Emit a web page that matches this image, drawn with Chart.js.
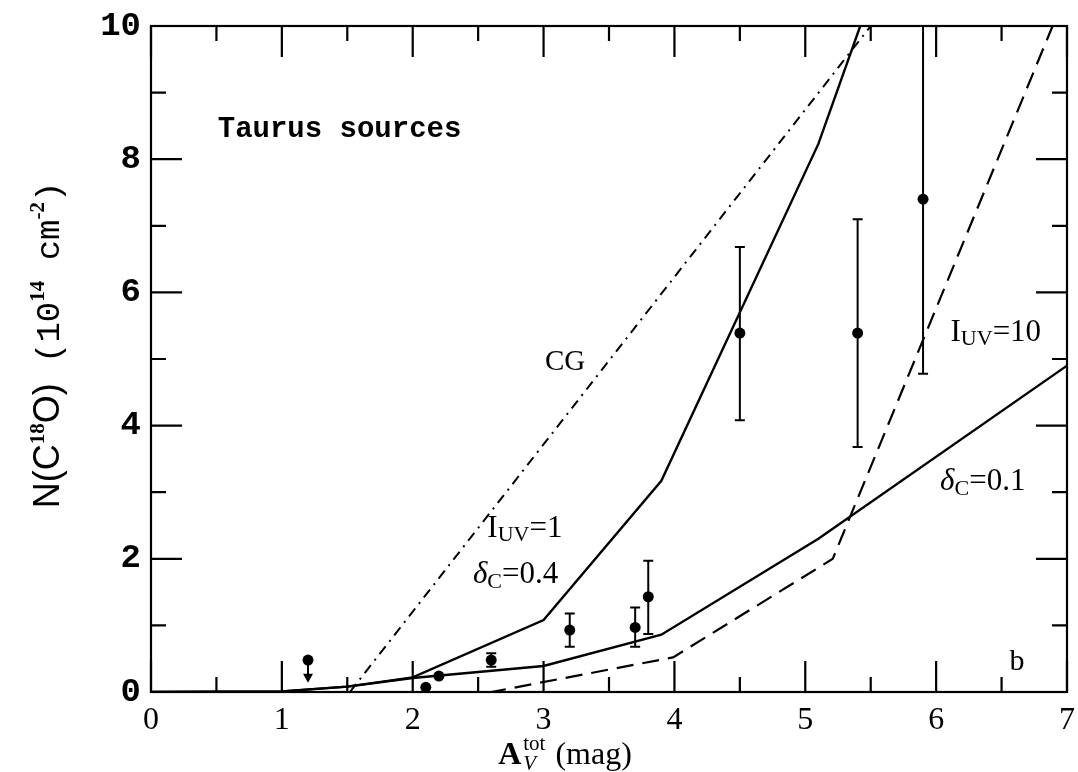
<!DOCTYPE html>
<html lang="en">
<head>
<meta charset="UTF-8" />
<title>N(C18O) vs A_V - Taurus sources</title>
<script src="https://cdn.jsdelivr.net/npm/chart.js"></script>
<style>
  body { margin: 0; background: #ffffff; }
  #wrap { width: 1078px; height: 772px; }
</style>
</head>
<body>
<div id="wrap"><canvas id="chart" width="1078" height="772"></canvas></div>
<script>
// axis ticks
const xTicks = [0, 1, 2, 3, 4, 5, 6, 7];
const yTicks = [0, 2, 4, 6, 8, 10];

// observed sources (with error bars)
const obsX    = [2.1, 2.2, 2.6, 3.2, 3.7, 3.8, 4.5, 5.4, 5.9];
const obsY    = [0.07, 0.24, 0.48, 0.93, 0.97, 1.43, 5.39, 5.39, 7.40];
const obsLow  = [null, null, 0.38, 0.68, 0.68, 0.87, 4.08, 3.68, 4.78];
const obsHigh = [null, null, 0.58, 1.18, 1.27, 1.97, 6.68, 7.10, 10.6];

// upper limit
const limX  = [1.2];
const limY  = [0.48];
const limTo = [0.14];

// model curves
const cgX   = [1.52, 5.5];
const cgY   = [0, 10];
const uv1X  = [0, 1, 1.5, 2, 3, 3.9, 5.1, 5.42];
const uv1Y  = [0, 0.01, 0.08, 0.22, 1.08, 3.17, 8.23, 10];
const dc01X = [0, 1, 1.5, 2, 3, 3.9, 5.1, 7];
const dc01Y = [0, 0.01, 0.08, 0.21, 0.39, 0.86, 2.3, 4.9];
const uv10X = [0, 2.6, 3.99, 5.21, 6.89];
const uv10Y = [0, 0, 0.52, 2.0, 10];

const pts = (xs, ys) => xs.map((x, i) => ({ x: x, y: ys[i] }));

const SERIF = '"Liberation Serif", serif';
const SANS = '"Liberation Sans", sans-serif';
const MONO = '"Liberation Mono", monospace';

function richWidth(ctx, segs) {
  let w = 0;
  segs.forEach(s => { ctx.font = s.f; w += ctx.measureText(s.t).width; });
  return w;
}
function drawRich(ctx, x, y, segs) {
  let cx = x;
  segs.forEach(s => {
    ctx.font = s.f;
    ctx.fillText(s.t, cx, y + (s.dy || 0));
    cx += ctx.measureText(s.t).width;
  });
}

// text labels placed in data units
const notes = [
  { x: 0.51, y: 8.34, segs: [{ t: 'Taurus sources', f: 'bold 29px ' + MONO }] },
  { x: 3.01, y: 4.84, segs: [{ t: 'CG', f: '29px ' + SERIF }] },
  { x: 2.57, y: 2.33, segs: [{ t: 'I', f: '31px ' + SERIF }, { t: 'UV', f: '22px ' + SERIF, dy: 4 }, { t: '=1', f: '31px ' + SERIF }] },
  { x: 2.46, y: 1.64, segs: [{ t: 'δ', f: 'italic 31px ' + SERIF }, { t: 'C', f: '22px ' + SERIF, dy: 5 }, { t: '=0.4', f: '31px ' + SERIF }] },
  { x: 6.11, y: 5.27, segs: [{ t: 'I', f: '31px ' + SERIF }, { t: 'UV', f: '22px ' + SERIF, dy: 4 }, { t: '=10', f: '31px ' + SERIF }] },
  { x: 6.03, y: 3.03, segs: [{ t: 'δ', f: 'italic 31px ' + SERIF }, { t: 'C', f: '22px ' + SERIF, dy: 5 }, { t: '=0.1', f: '31px ' + SERIF }] },
  { x: 6.56, y: 0.33, segs: [{ t: 'b', f: '30px ' + SERIF }] }
];

const framePlugin = {
  id: 'frame',
  afterDatasetsDraw(chart) {
    const ctx = chart.ctx, a = chart.chartArea;
    const xs = chart.scales.x, ys = chart.scales.y;
    ctx.save();
    ctx.strokeStyle = '#000';
    ctx.fillStyle = '#000';

    // error bars and upper limit, clipped to plot
    ctx.save();
    ctx.beginPath();
    ctx.rect(a.left, a.top, a.right - a.left, a.bottom - a.top);
    ctx.clip();
    ctx.lineWidth = 2;
    obsX.forEach((v, i) => {
      if (obsLow[i] === null) return;
      const px = xs.getPixelForValue(v);
      const lo = ys.getPixelForValue(obsLow[i]);
      const hi = ys.getPixelForValue(obsHigh[i]);
      ctx.beginPath();
      ctx.moveTo(px, lo); ctx.lineTo(px, hi);
      ctx.moveTo(px - 5, lo); ctx.lineTo(px + 5, lo);
      ctx.moveTo(px - 5, hi); ctx.lineTo(px + 5, hi);
      ctx.stroke();
    });
    limX.forEach((v, i) => {
      const px = xs.getPixelForValue(v);
      const p0 = ys.getPixelForValue(limY[i]);
      const p1 = ys.getPixelForValue(limTo[i]);
      ctx.beginPath();
      ctx.moveTo(px, p0); ctx.lineTo(px, p1 - 8);
      ctx.stroke();
      ctx.beginPath();
      ctx.moveTo(px - 5, p1 - 9); ctx.lineTo(px + 5, p1 - 9); ctx.lineTo(px, p1);
      ctx.closePath();
      ctx.fill();
    });
    ctx.restore();

    // frame
    ctx.lineWidth = 2.2;
    ctx.strokeRect(a.left, a.top, a.right - a.left, a.bottom - a.top);

    // inward ticks on all four sides
    const major = 31, minor = 15;
    ctx.lineWidth = 2.2;
    ctx.beginPath();
    for (let v = xs.min; v <= xs.max + 1e-9; v += 0.5) {
      const px = xs.getPixelForValue(v);
      const len = Math.abs(v - Math.round(v)) < 1e-9 ? major : minor;
      ctx.moveTo(px, a.bottom); ctx.lineTo(px, a.bottom - len);
      ctx.moveTo(px, a.top); ctx.lineTo(px, a.top + len);
    }
    for (let v = ys.min; v <= ys.max + 1e-9; v += 1) {
      const py = ys.getPixelForValue(v);
      const len = v % 2 === 0 ? major : minor;
      ctx.moveTo(a.left, py); ctx.lineTo(a.left + len, py);
      ctx.moveTo(a.right, py); ctx.lineTo(a.right - len, py);
    }
    ctx.stroke();

    // annotations
    ctx.textBaseline = 'alphabetic';
    ctx.textAlign = 'left';
    notes.forEach(n => drawRich(ctx, xs.getPixelForValue(n.x), ys.getPixelForValue(n.y), n.segs));

    // y axis title
    const yt = [
      { t: 'N(C', f: '36px ' + SANS },
      { t: '18', f: 'bold 21px ' + SERIF, dy: -15 },
      { t: 'O)', f: '36px ' + SANS },
      { t: ' (10', f: '34px ' + MONO },
      { t: '14', f: 'bold 21px ' + SERIF, dy: -15 },
      { t: ' cm', f: '34px ' + MONO },
      { t: '-2', f: 'bold 21px ' + SERIF, dy: -15 },
      { t: ')', f: '34px ' + MONO }
    ];
    ctx.save();
    ctx.translate(59, 345);
    ctx.rotate(-Math.PI / 2);
    drawRich(ctx, -richWidth(ctx, yt) / 2, 0, yt);
    ctx.restore();

    // x axis title
    const fA = 'bold 32px ' + SERIF, fSup = '21px ' + SERIF, fSub = 'italic 21px ' + SERIF, fMag = '32px ' + SERIF;
    ctx.font = fA; const wA = ctx.measureText('A').width;
    ctx.font = fSup; const wTot = ctx.measureText('tot').width;
    ctx.font = fMag; const wMag = ctx.measureText(' (mag)').width;
    let cx = 565 - (wA + 2 + wTot + 2 + wMag) / 2;
    const base = 764;
    ctx.font = fA; ctx.fillText('A', cx, base); cx += wA + 2;
    ctx.font = fSup; ctx.fillText('tot', cx, base - 14);
    ctx.font = fSub; ctx.fillText('V', cx, base + 6);
    cx += wTot + 2;
    ctx.font = fMag; ctx.fillText(' (mag)', cx, base);

    ctx.restore();
  }
};

new Chart(document.getElementById('chart'), {
  type: 'scatter',
  data: {
    datasets: [
      { type: 'line', data: pts(cgX, cgY), borderColor: '#000', borderWidth: 2, borderDash: [10, 6, 2, 6], pointRadius: 0, fill: false },
      { type: 'line', data: pts(uv1X, uv1Y), borderColor: '#000', borderWidth: 2.4, pointRadius: 0, fill: false },
      { type: 'line', data: pts(dc01X, dc01Y), borderColor: '#000', borderWidth: 2.4, pointRadius: 0, fill: false },
      { type: 'line', data: pts(uv10X, uv10Y), borderColor: '#000', borderWidth: 2.2, borderDash: [17, 9], pointRadius: 0, fill: false },
      { data: pts(obsX, obsY), pointRadius: 5.5, pointBackgroundColor: '#000', pointBorderColor: '#000', borderWidth: 0 },
      { data: pts(limX, limY), pointRadius: 5.5, pointBackgroundColor: '#000', pointBorderColor: '#000', borderWidth: 0 }
    ]
  },
  options: {
    responsive: false,
    animation: false,
    devicePixelRatio: 1,
    layout: { padding: { top: 26, right: 11, left: 0, bottom: 0 } },
    plugins: { legend: { display: false }, tooltip: { enabled: false } },
    scales: {
      x: {
        type: 'linear', min: 0, max: 7,
        afterBuildTicks: s => { s.ticks = xTicks.map(v => ({ value: v })); },
        afterFit: s => { s.height = 80; s.paddingLeft = 0; s.paddingRight = 0; },
        grid: { display: false, drawTicks: false },
        border: { display: false },
        ticks: { color: '#000', padding: 9, font: { family: SERIF, size: 32 } }
      },
      y: {
        type: 'linear', min: 0, max: 10,
        afterBuildTicks: s => { s.ticks = yTicks.map(v => ({ value: v })); },
        afterFit: s => { s.width = 151; s.paddingTop = 0; s.paddingBottom = 0; },
        grid: { display: false, drawTicks: false },
        border: { display: false },
        ticks: { color: '#000', padding: 10, font: { family: MONO, size: 34, weight: 'bold' } }
      }
    }
  },
  plugins: [framePlugin]
});
</script>
</body>
</html>
